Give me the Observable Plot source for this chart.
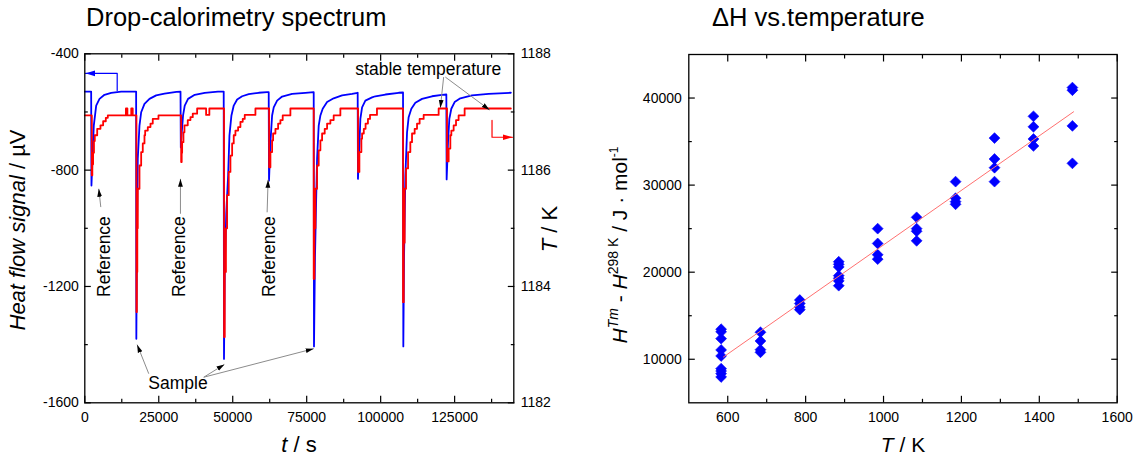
<!DOCTYPE html>
<html><head><meta charset="utf-8">
<script src="https://cdn.jsdelivr.net/npm/d3@7"></script>
<script src="https://cdn.jsdelivr.net/npm/@observablehq/plot@0.6"></script>
<style>
body{margin:0;background:#fff;}
#wrap{position:relative;width:1136px;height:460px;overflow:hidden;font-family:"Liberation Sans",Arial,Helvetica,sans-serif;background:#fff;}
.title{position:absolute;font-size:25.5px;line-height:1;color:#000;white-space:nowrap;}
#c1,#c2{position:absolute;top:0;width:568px;height:460px;}
#c1{left:0}#c2{left:568px}
</style></head><body>
<div id="wrap">
<div id="c1"></div><div id="c2"></div>
<div class="title" style="left:86px;top:5.4px">Drop-calorimetry spectrum</div>
<div class="title" style="left:712px;top:5.4px">ΔH vs.temperature</div>
</div>
<script>
// ---------- data: drop-calorimetry spectrum ----------
// heat-flow signal (µV) vs time (s)
const blueT = [0,2150,2250,2600,3040,3850,4970,6650,8920,12300,
17350,17420,17650,17906,18480,19054,20170,21860,24120,26930,31000,
32350,32450,32700,33210,33780,34900,37160,40540,45000,
46950,47050,47300,47800,48450,48890,49560,50340,51490,53180,55410,58790,61620,
62160,62260,62740,63310,63860,65000,66690,70070,74560,
77370,77470,77800,78200,78510,79060,79630,80410,81890,84120,86960,90340,
92230,92330,92810,93140,93720,94830,97090,98210,101590,106080,
107560,107660,107900,108350,108920,109460,110370,111720,113990,117370,120750,
122200,122300,122770,123210,123880,125000,126930,130880,136490,144000];
const blueV = [-530,-530,-853,-760,-647,-578,-555,-541,-534,-530,
-530,-1380,-1000,-761,-647,-601,-572,-555,-543,-537,-531,
-530,-722,-680,-612,-578,-555,-541,-534,-530,
-530,-1449,-1150,-950,-818,-681,-612,-578,-557,-546,-539,-534,-532,
-532,-836,-704,-612,-584,-561,-547,-538,-534,
-532,-1406,-1100,-900,-761,-647,-612,-589,-566,-553,-543,-538,
-534,-830,-715,-624,-584,-561,-550,-546,-540,-534,
-533,-1406,-1100,-818,-670,-618,-589,-568,-555,-546,-541,
-540,-832,-704,-624,-589,-566,-553,-543,-538,-534];
// temperature (K) vs time (s)
const redT = [0,2365,2550,2800,3100,3380,4190,5300,6200,7100,7770,13900,14400,15700,16200,
17450,17600,17750,17906,18480,19054,19595,20170,20400,21290,22200,22970,24900,
32570,32750,32900,33340,33680,34800,35710,36490,37970,41000,42100,
47060,47300,47700,48100,48650,49220,49800,50340,50910,51820,52600,53380,54050,57670,
62300,62740,63310,63640,64430,65340,66120,66890,69490,
77370,77600,77940,78510,79060,79630,80200,81090,81890,83010,84120,86380,
92360,92810,93480,93720,94300,94900,95700,96400,98750,
107560,107800,108110,108580,109260,110030,110600,111490,112290,113170,114530,119600,
122430,122980,123550,123890,124670,125470,126350,128380,144000];
const redK = [1186.94,1185.91,1186.10,1186.30,1186.50,1186.60,1186.71,1186.77,1186.84,1186.90,1186.94,1187.06,1186.94,1187.06,1186.94,
1183.56,1184.25,1185.00,1185.68,1186.08,1186.31,1186.46,1186.60,1186.68,1186.74,1186.80,1186.88,1186.94,
1186.14,1186.30,1186.48,1186.65,1186.77,1186.86,1186.91,1186.97,1187.06,1186.95,1187.06,
1183.13,1184.25,1185.00,1185.57,1185.97,1186.25,1186.46,1186.60,1186.68,1186.74,1186.83,1186.88,1186.95,1187.06,
1186.05,1186.31,1186.51,1186.63,1186.71,1186.80,1186.86,1186.94,1187.06,
1184.13,1185.00,1185.68,1186.08,1186.34,1186.51,1186.63,1186.71,1186.80,1186.86,1186.94,1187.06,
1185.97,1186.31,1186.54,1186.63,1186.71,1186.80,1186.88,1186.95,1187.06,
1183.73,1184.75,1185.68,1186.03,1186.31,1186.48,1186.63,1186.71,1186.80,1186.88,1186.95,1187.06,
1186.15,1186.37,1186.60,1186.68,1186.77,1186.86,1186.94,1187.06,1187.06];
const timeTicks = [0,25000,50000,75000,100000,125000];
const timeMinor = [12500,37500,62500,87500,112500,137500];
const heatTicks = [-400,-800,-1200,-1600];
const heatMinor = [-600,-1000,-1400];
const tempTicks = [1188,1186,1184,1182];
const tempMinor = [1187,1185,1183];
// annotations (data units: s, µV)
const refLabelT = [6790,31960,62370];
const refLabelV = [-1097,-1097,-1097];
const sampleLabelT = [31490], sampleLabelV = [-1554];
const stableLabelT = [116110], stableLabelV = [-474.6];
const arrowT1 = [5405,32330,61620,21620,40200,40200,121290,121860];
const arrowV1 = [-927,-950,-945,-1500,-1512,-1512,-480,-480];
const arrowT2 = [4730,32330,61960,17700,47200,77360,120170,136830];
const arrowV2 = [-864,-830,-833,-1400,-1468,-1414,-586,-593];
const bluePtrT = [10950,10950,240], bluePtrV = [-526,-467,-467];
const redPtrT = [137640,137640,144560], redPtrV = [-629,-687,-687];

// ---------- data: ΔH vs temperature ----------
const scatterT = [583,583,583,583,583,583,583,583,583, 684,684,684,684, 785,785,785,785,
885,885,885,885,885,885,885, 985,985,985,985, 1085,1085,1085,1085, 1185,1185,1185,1185,
1285,1285,1285,1285, 1385,1385,1385,1385, 1485,1485,1485,1485];
const scatterH = [13450,13150,12370,11070,10380,8920,8650,8350,7970, 13100,12100,11100,10800, 16800,16400,16000,15700,
21200,20900,20600,19600,19300,19000,18450, 25000,23300,22000,21500, 26300,25000,24700,23600, 30400,28500,28100,27800,
35400,33000,32000,30400, 37900,36700,35300,34500, 41200,40900,36800,32500];
const fitT = [589,1488], fitH = [10260,38420];
const kTicks = [600,800,1000,1200,1400,1600];
const kMinor = [700,900,1100,1300,1500];
const hTicks = [10000,20000,30000,40000];
const hMinor = [15000,25000,35000];

// ---------- drawing ----------
const W = 568, H = 460;
const font = '"Liberation Sans", Arial, Helvetica, sans-serif';
const heatOf = T => -400 + (T - 1188) * 200;
const tempOf = v => 1188 + (v + 400) / 200;
const GRAY = "#8c8c8c";

const blue = blueT.map((t, i) => ({t, v: blueV[i]}));
const red = redT.map((t, i) => ({t, T: redK[i]}));
const arrows = arrowT1.map((t, i) => ({t1: t, v1: arrowV1[i], t2: arrowT2[i], v2: arrowV2[i]}));
const bluePtr = bluePtrT.map((t, i) => ({t, v: bluePtrV[i]}));
const redPtr = redPtrT.map((t, i) => ({t, v: redPtrV[i]}));
const scatter = scatterT.map((T, i) => ({T, H: scatterH[i]}));
const fit = fitT.map((T, i) => ({T, H: fitH[i]}));

function inwardTicks(xMaj, xMin, yMaj, yMin, maj, min) {
  const o = {label: null, tickFormat: () => "", strokeWidth: 1.2};
  return [
    Plot.axisX(xMaj, {...o, anchor: "bottom", tickSize: -maj}),
    Plot.axisX(xMaj, {...o, anchor: "top", tickSize: -maj}),
    Plot.axisX(xMin, {...o, anchor: "bottom", tickSize: -min}),
    Plot.axisX(xMin, {...o, anchor: "top", tickSize: -min}),
    Plot.axisY(yMaj, {...o, anchor: "left", tickSize: -maj}),
    Plot.axisY(yMaj, {...o, anchor: "right", tickSize: -maj}),
    Plot.axisY(yMin, {...o, anchor: "left", tickSize: -min}),
    Plot.axisY(yMin, {...o, anchor: "right", tickSize: -min})
  ];
}
const style = {fontFamily: font, fontSize: "14px", color: "#000", background: "transparent", overflow: "visible"};

const left = Plot.plot({
  width: W, height: H,
  marginLeft: 84.3, marginRight: W - 513.3, marginTop: 53.3, marginBottom: H - 402.3,
  style,
  x: {domain: [0, 145000], axis: null},
  y: {domain: [-1600, -400], axis: null},
  marks: [
    Plot.line(blue, {x: "t", y: "v", stroke: "#0000ff", strokeWidth: 1.8}),
    Plot.line(red, {x: "t", y: d => heatOf(d.T), curve: "step-after", stroke: "#ff0000", strokeWidth: 1.8}),
    Plot.link(arrows, {x1: "t1", y1: "v1", x2: "t2", y2: "v2", stroke: GRAY, strokeWidth: 1, markerEnd: "arrow"}),
    Plot.line(bluePtr, {x: "t", y: "v", stroke: "#0000ff", strokeWidth: 1.2, markerEnd: "arrow"}),
    Plot.line(redPtr, {x: "t", y: "v", stroke: "#ff0000", strokeWidth: 1.2, markerEnd: "arrow"}),
    Plot.text(refLabelT, {x: d => d, y: (d, i) => refLabelV[i], text: () => "Reference", rotate: -90, fontSize: 17.5}),
    Plot.text(sampleLabelT, {x: d => d, y: (d, i) => sampleLabelV[i], text: () => "Sample", lineAnchor: "bottom", fontSize: 17.5}),
    Plot.text(stableLabelT, {x: d => d, y: (d, i) => stableLabelV[i], text: () => "stable temperature", lineAnchor: "bottom", fontSize: 17.5}),
    Plot.frame({stroke: "#000", strokeWidth: 1.3}),
    ...inwardTicks(timeTicks, timeMinor, heatTicks, heatMinor, 6.5, 3.5),
    Plot.axisX(timeTicks, {anchor: "bottom", tickSize: 0, tickPadding: 9, tickFormat: d => String(d), label: null}),
    Plot.axisY(heatTicks, {anchor: "left", tickSize: 0, tickPadding: 6, tickFormat: d => String(d), label: null}),
    Plot.axisY(tempTicks.map(heatOf), {anchor: "right", tickSize: 0, tickPadding: 7, tickFormat: v => String(Math.round(tempOf(v))), label: null})
  ]
});

const right = Plot.plot({
  width: W, height: H,
  marginLeft: 120.3, marginRight: W - 548.7, marginTop: 54, marginBottom: H - 402.3,
  style,
  x: {domain: [500, 1600], axis: null},
  y: {domain: [5000, 45000], axis: null},
  marks: [
    Plot.dot(scatter, {x: "T", y: "H", symbol: "diamond2", r: 4.9, fill: "#0000ff", stroke: "#0000ff", strokeWidth: 0.6}),
    Plot.line(fit, {x: "T", y: "H", stroke: "#ff7070", strokeWidth: 1}),
    Plot.frame({stroke: "#000", strokeWidth: 1.3}),
    ...inwardTicks(kTicks, kMinor, hTicks, hMinor, 6.5, 3.5),
    Plot.axisX(kTicks, {anchor: "bottom", tickSize: 0, tickPadding: 9, tickFormat: d => String(d), label: null}),
    Plot.axisY(hTicks, {anchor: "left", tickSize: 0, tickPadding: 7, tickFormat: d => String(d), label: null})
  ]
});

function solidHeads(svg) {
  d3.select(svg).selectAll("marker").each(function() {
    const m = d3.select(this);
    const c = m.attr("stroke");
    m.attr("viewBox", "-8 -4 8 8").attr("markerWidth", 8).attr("markerHeight", 8)
     .attr("fill", c === GRAY ? "#000" : c).attr("stroke", "none");
    m.selectAll("path").attr("d", "M-8,-2.4L0,0L-8,2.4Z");
  });
}
solidHeads(left);

function rotLabel(svg, x, y, size, parts) {
  const t = d3.select(svg).append("text")
    .attr("transform", `translate(${x},${y}) rotate(-90)`)
    .attr("text-anchor", "middle").attr("font-size", size).attr("fill", "#000");
  for (const p of parts) {
    const s = t.append("tspan").text(p.text);
    if (p.italic) s.attr("font-style", "italic");
    if (p.size) s.attr("font-size", p.size);
    if (p.dy) s.attr("dy", p.dy);
  }
  return t;
}
function hLabel(svg, x, y, size, parts) {
  const t = d3.select(svg).append("text")
    .attr("x", x).attr("y", y).attr("text-anchor", "middle").attr("font-size", size).attr("fill", "#000");
  for (const p of parts) {
    const s = t.append("tspan").text(p.text);
    if (p.italic) s.attr("font-style", "italic");
  }
}
rotLabel(left, 25, 230, 22, [{text: "Heat flow signal", italic: true}, {text: " / µV"}]);
rotLabel(left, 557, 229, 22, [{text: "T", italic: true}, {text: " / K"}]);
hLabel(left, 299, 452, 22, [{text: "t", italic: true}, {text: " / s"}]);

rotLabel(right, 626.5 - 568, 245, 21, [
  {text: "H", italic: true},
  {text: "Tm", italic: true, size: 14, dy: -9},
  {text: " - ", dy: 9},
  {text: "H", italic: true},
  {text: "298 K", size: 14, dy: -9},
  {text: " / J · mol", dy: 9},
  {text: "-1", size: 12, dy: -9}
]);
hLabel(right, 903 - 568, 452, 21, [{text: "T", italic: true}, {text: " / K"}]);

document.getElementById("c1").appendChild(left);
document.getElementById("c2").appendChild(right);
</script>
</body></html>
